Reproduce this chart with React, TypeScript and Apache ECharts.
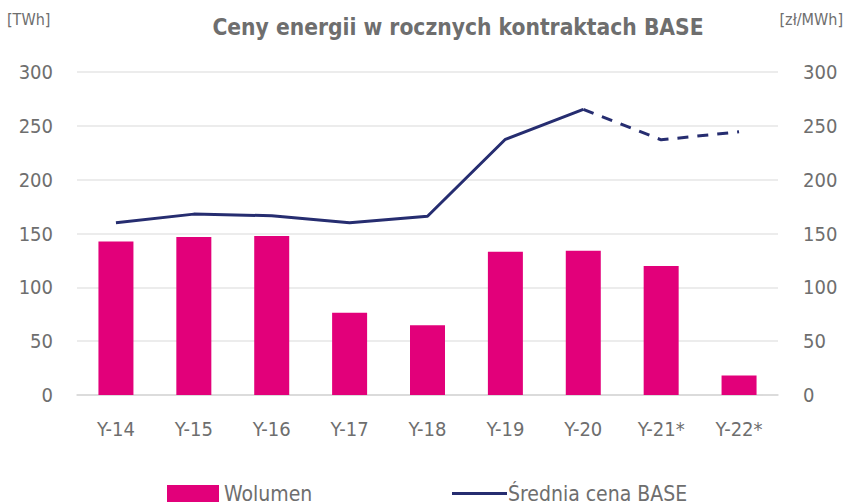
import React, { useEffect, useRef } from "react";
import * as echarts from "echarts";

const categories = ["Y-14", "Y-15", "Y-16", "Y-17", "Y-18", "Y-19", "Y-20", "Y-21*", "Y-22*"];
const volume = [142.5, 146.7, 147.7, 76.4, 64.7, 133, 134, 119.8, 18];
const priceActual = [160, 168, 166.5, 160, 166, 237.5, 265.3, null, null];
const priceForecast = [null, null, null, null, null, null, 265.3, 237, 244.5];
const ticks = [0, 50, 100, 150, 200, 250, 300];

const FONT = "'DejaVu Sans Condensed', 'Roboto', sans-serif";
const GRAY = "#6e6e6e";
const PINK = "#e2007a";
const NAVY = "#262d70";

export default function App() {
  const ref = useRef<HTMLDivElement>(null);
  useEffect(() => {
    if (!ref.current) return;
    const chart = echarts.init(ref.current, null, { renderer: "svg" });
    const toLine = (a: (number | null)[]) => a.map((v) => (v === null ? "-" : v));
    chart.setOption({
      animation: false,
      textStyle: { fontFamily: FONT },
      graphic: [
        {
          type: "text",
          x: 458,
          y: 27,
          style: {
            text: "Ceny energii w rocznych kontraktach BASE",
            fontFamily: FONT,
            fontSize: 22.6,
            fontWeight: "bold",
            fill: GRAY,
            align: "center",
            verticalAlign: "middle",
          },
        },
        { type: "text", x: 7, y: 19, style: { text: "[TWh]", fontFamily: FONT, fontSize: 16, fill: GRAY, verticalAlign: "middle" } },
        { type: "text", x: 843, y: 19, style: { text: "[zł/MWh]", fontFamily: FONT, fontSize: 16, fill: GRAY, align: "right", verticalAlign: "middle" } },
      ],
      legend: [
        {
          data: [{ name: "Wolumen", icon: "rect" }],
          left: 167,
          top: 483,
          padding: 0,
          itemWidth: 52,
          itemHeight: 17,
          textStyle: { fontFamily: FONT, fontSize: 21, lineHeight: 20, color: GRAY, padding: [0, 0, 0, 0] },
        },
        {
          data: [{ name: "Średnia cena BASE", icon: "rect" }],
          left: 452,
          top: 483,
          padding: 0,
          itemWidth: 55,
          itemHeight: 3,
          textStyle: { fontFamily: FONT, fontSize: 21, lineHeight: 20, color: GRAY, padding: [0, 0, 0, -4] },
        },
      ],
      grid: { left: 77, right: 69, top: 72, bottom: 109, containLabel: false },
      xAxis: {
        type: "category",
        data: categories,
        axisTick: { show: false },
        axisLine: { lineStyle: { color: "#d6d6d6", width: 1.5 } },
        axisLabel: { fontFamily: FONT, fontSize: 20, color: GRAY, margin: 24 },
      },
      yAxis: [
        {
          type: "value",
          min: ticks[0],
          max: ticks[ticks.length - 1],
          interval: 50,
          axisLabel: { fontFamily: FONT, fontSize: 20, color: GRAY, margin: 24 },
          splitLine: { lineStyle: { color: "#e6e6e6", width: 1.5 } },
          axisLine: { show: false },
          axisTick: { show: false },
        },
        {
          type: "value",
          min: ticks[0],
          max: ticks[ticks.length - 1],
          interval: 50,
          axisLabel: { fontFamily: FONT, fontSize: 20, color: GRAY, margin: 25 },
          splitLine: { show: false },
          axisLine: { show: false },
          axisTick: { show: false },
        },
      ],
      series: [
        {
          name: "Wolumen",
          type: "bar",
          data: volume,
          barWidth: 35,
          itemStyle: { color: PINK },
          yAxisIndex: 0,
        },
        {
          name: "Średnia cena BASE",
          type: "line",
          data: toLine(priceActual),
          yAxisIndex: 1,
          symbol: "none",
          lineStyle: { color: NAVY, width: 3 },
          itemStyle: { color: NAVY },
          z: 3,
        },
        {
          name: "Średnia cena BASE (prognoza)",
          type: "line",
          data: toLine(priceForecast),
          yAxisIndex: 1,
          symbol: "none",
          lineStyle: { color: NAVY, width: 3, type: [11, 9] },
          itemStyle: { color: NAVY },
          z: 3,
        },
      ],
    });
    return () => chart.dispose();
  }, []);
  return <div ref={ref} style={{ width: 847, height: 504, position: "absolute", left: 0, top: 0 }} />;
}
